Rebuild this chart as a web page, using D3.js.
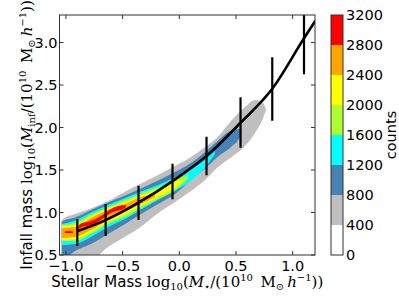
<!DOCTYPE html>
<html>
<head>
<meta charset="utf-8">
<script src="https://cdn.jsdelivr.net/npm/d3@7"></script>
<style>
  body { margin: 0; background: #fff; }
  svg { display: block; }
  text { font-family: "DejaVu Sans", sans-serif; fill: #000; }
  .math { font-family: "DejaVu Serif", "Liberation Serif", serif; }
</style>
</head>
<body>
<svg id="chart" width="399" height="301"></svg>
<script>
// contour levels (counts) and their fill colours
const levels = [0, 400, 800, 1200, 1600, 2000, 2400, 2800, 3200]
const levelColors = ["#ffffff", "#bfbfbf", "#4682b4", "#00ffff", "#adff2f", "#ffff00", "#ffa500", "#ff0000"]

// each band: [log Mstar, lower log Minf, upper log Minf]
const band400 = [[-1.044, 0.45, 0.90], [-1.026, 0.45, 0.924], [-0.920, 0.45, 0.982], [-0.779, 0.45, 1.047],
    [-0.629, 0.594, 1.135], [-0.479, 0.715, 1.245], [-0.338, 0.833, 1.341], [-0.188, 0.991, 1.441],
    [-0.038, 1.124, 1.547], [0.103, 1.253, 1.653], [0.227, 1.382, 1.771], [0.342, 1.535, 1.892],
    [0.456, 1.647, 2.076], [0.580, 1.782, 2.241], [0.668, 1.935, 2.324], [0.739, 2.112, 2.288], [0.765, 2.206, 2.206]]
const band800 = [[-1.035, 0.45, 0.888], [-1.026, 0.45, 0.90], [-0.920, 0.547, 0.941], [-0.779, 0.629, 1.029],
    [-0.629, 0.747, 1.118], [-0.479, 0.865, 1.20], [-0.338, 0.982, 1.282], [-0.188, 1.10, 1.376],
    [-0.038, 1.218, 1.476], [0.103, 1.382, 1.582], [0.227, 1.518, 1.712], [0.342, 1.659, 1.847],
    [0.456, 1.771, 1.965], [0.536, 1.888, 1.982], [0.55, 1.93, 1.95]]
const band1200 = [[-1.035, 0.618, 0.865], [-0.920, 0.629, 0.906], [-0.779, 0.712, 1.0], [-0.629, 0.829, 1.088],
    [-0.479, 0.924, 1.171], [-0.338, 1.035, 1.247], [-0.188, 1.147, 1.324], [-0.038, 1.253, 1.412],
    [0.103, 1.376, 1.506], [0.227, 1.529, 1.624], [0.315, 1.688, 1.724]]
const band1600 = [[-1.035, 0.665, 0.853], [-0.920, 0.665, 0.876], [-0.779, 0.747, 0.976], [-0.629, 0.865, 1.065],
    [-0.479, 0.947, 1.147], [-0.338, 1.053, 1.224], [-0.188, 1.159, 1.30], [-0.038, 1.265, 1.382], [0.077, 1.40, 1.447]]
const band2000 = [[-1.035, 0.676, 0.841], [-0.920, 0.688, 0.853], [-0.779, 0.771, 0.959], [-0.629, 0.888, 1.047],
    [-0.479, 0.976, 1.124], [-0.338, 1.076, 1.20], [-0.188, 1.182, 1.276], [-0.038, 1.288, 1.359], [0.033, 1.365, 1.388]]
const band2400 = [[-1.035, 0.70, 0.818], [-0.920, 0.712, 0.829], [-0.779, 0.794, 0.935], [-0.629, 0.912, 1.029],
    [-0.479, 1.006, 1.10], [-0.338, 1.10, 1.182], [-0.215, 1.182, 1.218]]
const band2800a = [[-1.009, 0.76, 0.78], [-0.938, 0.76, 0.78]]
const band2800b = [[-0.894, 0.80, 0.83], [-0.876, 0.818, 0.865], [-0.779, 0.853, 0.90], [-0.691, 0.912, 0.959],
    [-0.603, 0.994, 1.041], [-0.479, 1.053, 1.088], [-0.47, 1.065, 1.075]]

// mean relation and its scatter
const meanX = [-0.90, -0.65, -0.36, -0.06, 0.24, 0.54, 0.82, 1.10, 1.20]
const meanY = [0.78, 0.91, 1.115, 1.37, 1.665, 2.056, 2.456, 3.05, 3.256]
const errX = [-0.90, -0.65, -0.36, -0.06, 0.24, 0.54, 0.82, 1.10]
const errLo = [0.606, 0.724, 0.912, 1.155, 1.438, 1.762, 2.08, 2.626]
const errHi = [0.924, 1.10, 1.315, 1.574, 1.892, 2.355, 2.826, 3.48]

const xTicks = [-1.0, -0.5, 0.0, 0.5, 1.0]
const yTicks = [0.5, 1.0, 1.5, 2.0, 2.5, 3.0]
const cbTicks = [0, 400, 800, 1200, 1600, 2000, 2400, 2800, 3200]

const bands = [
    { data: band400, color: levelColors[1] },
    { data: band800, color: levelColors[2] },
    { data: band1200, color: levelColors[3] },
    { data: band1600, color: levelColors[4] },
    { data: band2000, color: levelColors[5] },
    { data: band2400, color: levelColors[6] },
    { data: band2800a, color: levelColors[7] },
    { data: band2800b, color: levelColors[7] }
]

var svg = d3.select("#chart")
var plot = { left: 59.5, top: 15, right: 315, bottom: 255 }

var x = d3.scaleLinear().domain([-1.057, 1.197]).range([plot.left, plot.right])
var y = d3.scaleLinear().domain([0.5, 3.324]).range([plot.bottom, plot.top])

svg.append("clipPath").attr("id", "clip")
    .append("rect")
    .attr("x", plot.left).attr("y", plot.top)
    .attr("width", plot.right - plot.left).attr("height", plot.bottom - plot.top)

var g = svg.append("g").attr("clip-path", "url(#clip)")

var area = d3.area()
    .x(function(d) { return x(d[0]) })
    .y0(function(d) { return y(d[1]) })
    .y1(function(d) { return y(d[2]) })
    .curve(d3.curveMonotoneX)

bands.forEach(function(b) {
    g.append("path").attr("d", area(b.data)).attr("fill", b.color)
})

var meanPts = meanX.map(function(v, i) { return [v, meanY[i]] })
g.append("path")
    .attr("d", d3.line().x(function(d) { return x(d[0]) }).y(function(d) { return y(d[1]) }).curve(d3.curveMonotoneX)(meanPts))
    .attr("fill", "none").attr("stroke", "#000").attr("stroke-width", 2.6)

g.selectAll("line.err").data(errX).enter().append("line")
    .attr("x1", function(d) { return x(d) }).attr("x2", function(d) { return x(d) })
    .attr("y1", function(d, i) { return y(errLo[i]) }).attr("y2", function(d, i) { return y(errHi[i]) })
    .attr("stroke", "#000").attr("stroke-width", 2.2)

// frame and inward ticks on all four sides
svg.append("rect")
    .attr("x", plot.left).attr("y", plot.top)
    .attr("width", plot.right - plot.left).attr("height", plot.bottom - plot.top)
    .attr("fill", "none").attr("stroke", "#333").attr("stroke-width", 1)

xTicks.forEach(function(t) {
    svg.append("line").attr("x1", x(t)).attr("x2", x(t)).attr("y1", plot.bottom).attr("y2", plot.bottom - 4).attr("stroke", "#333")
    svg.append("line").attr("x1", x(t)).attr("x2", x(t)).attr("y1", plot.top).attr("y2", plot.top + 4).attr("stroke", "#333")
    svg.append("text").attr("x", x(t)).attr("y", 271).attr("text-anchor", "middle").attr("font-size", 14.5)
        .text(d3.format(".1f")(t).replace("-", "\u2212"))
})
yTicks.forEach(function(t) {
    svg.append("line").attr("x1", plot.left).attr("x2", plot.left + 4).attr("y1", y(t)).attr("y2", y(t)).attr("stroke", "#333")
    svg.append("line").attr("x1", plot.right).attr("x2", plot.right - 4).attr("y1", y(t)).attr("y2", y(t)).attr("stroke", "#333")
    svg.append("text").attr("x", 57.5).attr("y", y(t) + 5).attr("text-anchor", "end").attr("font-size", 14.5)
        .text(d3.format(".1f")(t))
})

// axis labels with math parts
function mathLabel(sel, prefix, sub) {
    sel.append("tspan").text(prefix)
    sel.append("tspan").attr("class", "math").text("log")
    sel.append("tspan").attr("class", "math").attr("font-size", 10).attr("dy", 3).text("10")
    sel.append("tspan").attr("class", "math").attr("dy", -3).text("(")
    sel.append("tspan").attr("class", "math").attr("font-style", "italic").text("M")
    sel.append("tspan").attr("class", "math").attr("font-size", 10).attr("dy", 3).text(sub)
    sel.append("tspan").attr("class", "math").attr("dy", -3).text("/(10")
    sel.append("tspan").attr("class", "math").attr("font-size", 10).attr("dy", -6).text("10")
    sel.append("tspan").attr("class", "math").attr("dy", 6).text("\u2002M")
    sel.append("tspan").attr("class", "math").attr("font-size", 10).attr("dy", 3).text("\u2299")
    sel.append("tspan").attr("class", "math").attr("dy", -3).attr("font-style", "italic").text("\u2009h")
    sel.append("tspan").attr("class", "math").attr("font-size", 10).attr("dy", -6).text("\u22121")
    sel.append("tspan").attr("class", "math").attr("dy", 6).text("))")
}

var xl = svg.append("text").attr("x", (plot.left + plot.right) / 2).attr("y", 287)
    .attr("text-anchor", "middle").attr("font-size", 15)
mathLabel(xl, "Stellar Mass ", "\u22c6")

var yl = svg.append("text").attr("transform", "translate(32," + ((plot.top + plot.bottom) / 2) + ") rotate(-90)")
    .attr("text-anchor", "middle").attr("font-size", 15)
mathLabel(yl, "Infall mass ", "inf")

// colour bar
var cb = { left: 331, right: 343, top: 15, bottom: 255 }
var cy = d3.scaleLinear().domain([0, 3200]).range([cb.bottom, cb.top])
for (var i = 0; i < levels.length - 1; i++) {
    svg.append("rect")
        .attr("x", cb.left).attr("y", cy(levels[i + 1]))
        .attr("width", cb.right - cb.left).attr("height", cy(levels[i]) - cy(levels[i + 1]))
        .attr("fill", levelColors[i])
}
svg.append("rect")
    .attr("x", cb.left).attr("y", cb.top)
    .attr("width", cb.right - cb.left).attr("height", cb.bottom - cb.top)
    .attr("fill", "none").attr("stroke", "#333")
cbTicks.forEach(function(t) {
    svg.append("text").attr("x", cb.right + 3).attr("y", cy(t) + 5).attr("font-size", 14.5).text(t)
})
svg.append("text").attr("transform", "translate(396,135) rotate(-90)")
    .attr("text-anchor", "middle").attr("font-size", 14.5).text("counts")
</script>
</body>
</html>
